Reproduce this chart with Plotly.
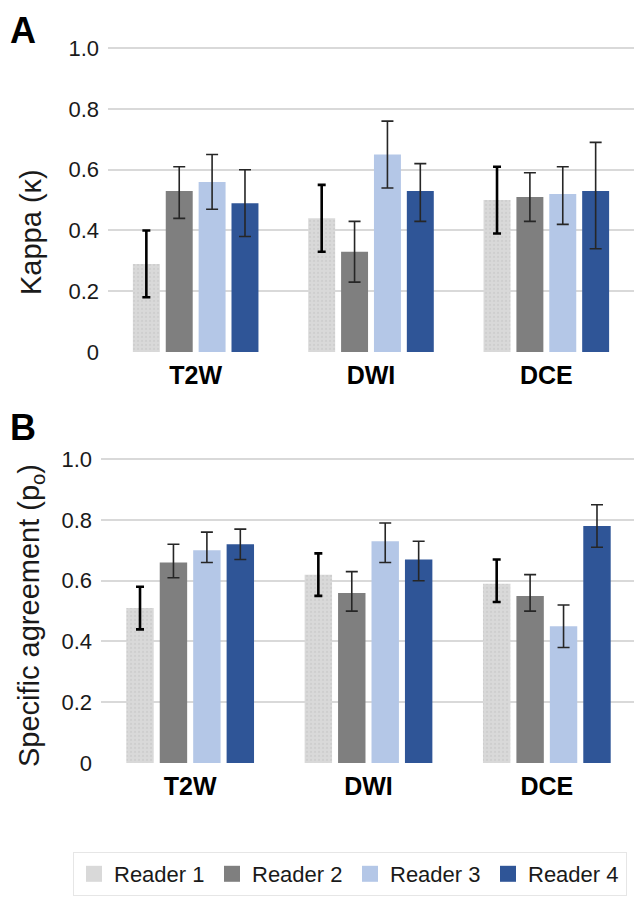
import plotly.graph_objects as go

# categories and readers
sequences = ["T2W", "DWI", "DCE"]
readers = ["Reader 1", "Reader 2", "Reader 3", "Reader 4"]
colors = ["#d9d9d9", "#7f7f7f", "#b4c7e7", "#2f5597"]

# panel A : kappa, per reader, one value per sequence (T2W, DWI, DCE)
kappa = [[0.29, 0.44, 0.50], [0.53, 0.33, 0.51], [0.56, 0.65, 0.52], [0.49, 0.53, 0.53]]
kappa_hi = [[0.40, 0.55, 0.61], [0.61, 0.43, 0.59], [0.65, 0.76, 0.61], [0.60, 0.62, 0.69]]
kappa_lo = [[0.18, 0.33, 0.39], [0.44, 0.23, 0.43], [0.47, 0.54, 0.42], [0.38, 0.43, 0.34]]

# panel B : specific agreement
spec = [[0.51, 0.62, 0.59], [0.66, 0.56, 0.55], [0.70, 0.73, 0.45], [0.72, 0.67, 0.78]]
spec_hi = [[0.58, 0.69, 0.67], [0.72, 0.63, 0.62], [0.76, 0.79, 0.52], [0.77, 0.73, 0.85]]
spec_lo = [[0.44, 0.55, 0.53], [0.61, 0.50, 0.50], [0.66, 0.66, 0.38], [0.67, 0.60, 0.71]]

yticks = [0, 0.2, 0.4, 0.6, 0.8, 1.0]
yticklabels = ["0", "0.2", "0.4", "0.6", "0.8", "1.0"]

# the page body adds an 8px margin, so the figure is a bit smaller and shifted
OFF = 8
W, H = 642 - OFF, 900 - OFF
FONT = "Liberation Sans, Arial, sans-serif"


def px(x):
    return (x - OFF) / W


def py(y):
    return 1 - (y - OFF) / H


fig = go.Figure()


def add_panel(vals, hi, lo, xa, ya):
    for i, r in enumerate(readers):
        plus = [h - v for h, v in zip(hi[i], vals[i])]
        minus = [v - l for v, l in zip(vals[i], lo[i])]
        first = i == 0
        fig.add_trace(go.Bar(
            x=sequences, y=vals[i], name=r, showlegend=False,
            xaxis=xa, yaxis=ya,
            marker=dict(color=colors[i], line=dict(width=0),
                        pattern=dict(shape="." if first else "", fgcolor="#c4c4c4",
                                     bgcolor=colors[i], size=4, solidity=0.25)),
            error_y=dict(type="data", symmetric=False, array=plus, arrayminus=minus,
                         color="#000000" if first else "#262626",
                         thickness=2.6 if first else 1.6,
                         width=4 if first else 6),
        ))


add_panel(kappa, kappa_hi, kappa_lo, "x", "y")
add_panel(spec, spec_hi, spec_lo, "x2", "y2")

# legend entries with big square swatches
for i, r in enumerate(readers):
    fig.add_trace(go.Scatter(
        x=[None], y=[None], mode="markers", name=r,
        marker=dict(symbol="square", size=20, color=colors[i]),
        xaxis="x", yaxis="y",
    ))

xcommon = dict(showgrid=False, showline=False, zeroline=False, ticks="",
               automargin=False, ticklabelstandoff=6, fixedrange=True)
ycommon = dict(range=[0, 1.004], tickvals=yticks, ticktext=yticklabels,
               showgrid=True, gridcolor="#d9d9d9", gridwidth=2,
               zeroline=False, showline=False, ticks="", automargin=False,
               tickfont=dict(family=FONT, size=22, color="#1a1a1a"),
               ticklabelstandoff=8, fixedrange=True)

fig.update_layout(
    width=W, height=H, autosize=False,
    margin=dict(l=0, r=0, t=0, b=0, autoexpand=False),
    paper_bgcolor="white", plot_bgcolor="white",
    barmode="group", bargap=0.25, bargroupgap=0.18,
    font=dict(family=FONT, color="#1a1a1a"),
    xaxis=dict(domain=[px(108), px(634)], anchor="y", **xcommon),
    yaxis=dict(domain=[py(352), py(47)], anchor="x", **ycommon),
    xaxis2=dict(domain=[px(101), px(636)], anchor="y2", **xcommon),
    yaxis2=dict(domain=[py(763), py(458)], anchor="x2", **ycommon),
    legend=dict(orientation="h", x=px(73), xanchor="left", y=py(852), yanchor="top",
                bordercolor="#e6e6e6", borderwidth=1, bgcolor="white",
                font=dict(family=FONT, size=22, color="#1a1a1a"),
                entrywidth=93, itemclick=False, itemdoubleclick=False),
    showlegend=True,
    annotations=[
        dict(text="<b>A</b>", x=0, y=py(8), xref="paper", yref="paper",
             xanchor="left", yanchor="top", showarrow=False,
             font=dict(family=FONT, size=36, color="#000000")),
        dict(text="<b>B</b>", x=0, y=py(405), xref="paper", yref="paper",
             xanchor="left", yanchor="top", showarrow=False,
             font=dict(family=FONT, size=36, color="#000000")),
        dict(text="Kappa (κ)", textangle=-90, x=px(31), y=py(232),
             xref="paper", yref="paper", xanchor="center", yanchor="middle",
             showarrow=False, font=dict(family=FONT, size=29, color="#1a1a1a")),
        dict(text="Specific agreement (p<sub>o</sub>)", textangle=-90, x=px(31), y=py(616),
             xref="paper", yref="paper", xanchor="center", yanchor="middle",
             showarrow=False, font=dict(family=FONT, size=29, color="#1a1a1a")),
    ],
)
fig.update_xaxes(tickfont=dict(family=FONT, size=25, color="#000000"),
                 tickvals=sequences, ticktext=["<b>%s</b>" % s for s in sequences])

fig.write_html("out.html")
